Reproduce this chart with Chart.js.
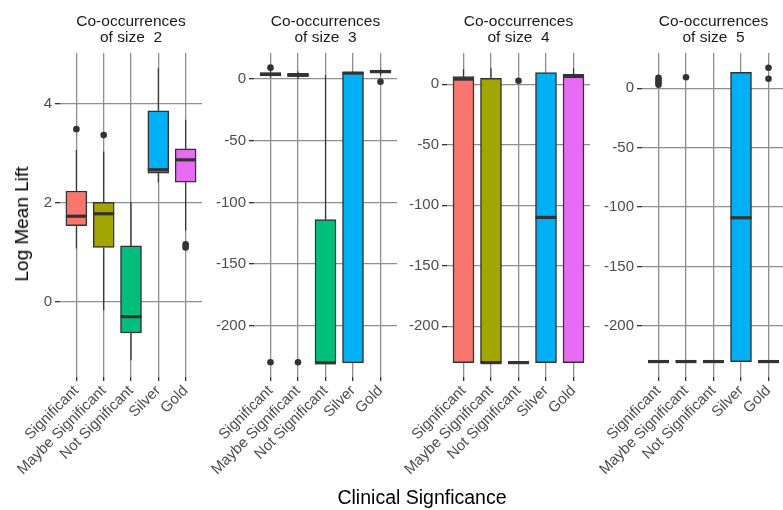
<!DOCTYPE html>
<html>
<head>
<meta charset="utf-8">
<script src="https://cdn.jsdelivr.net/npm/chart.js@4.4.0/dist/chart.umd.min.js"></script>
<style>
  body { margin: 0; background: #fff; width: 783px; height: 510px; overflow: hidden; position: relative; font-family: "Liberation Sans", Arial, sans-serif; }
  canvas { position: absolute; top: 0; }
  #ytitle { position: absolute; left: 22px; top: 224px; transform: translate(-50%, -50%) rotate(-90deg); font-size: 19px; color: #000; white-space: nowrap; }
  #xtitle { position: absolute; left: 422px; top: 497px; transform: translate(-50%, -50%); font-size: 19.5px; color: #000; white-space: nowrap; }
</style>
</head>
<body>
<canvas id="p2" width="206" height="510"></canvas>
<canvas id="p3" width="202" height="510"></canvas>
<canvas id="p4" width="202" height="510"></canvas>
<canvas id="p5" width="202" height="510"></canvas>
<div id="ytitle">Log Mean Lift</div>
<div id="xtitle">Clinical Signficance</div>
<script>
const categories = ['Significant', 'Maybe Significant', 'Not Significant', 'Silver', 'Gold'];
const boxColors = ['#F8766D', '#A3A500', '#00BF7D', '#00B0F6', '#E76BF3'];

// size 2
const s2Low  = [1.08, -0.17, -1.18, 2.41, 1.44];
const s2Q1   = [1.54, 1.10, -0.63, 2.60, 2.42];
const s2Med  = [1.73, 1.78, -0.30, 2.67, 2.87];
const s2Q3   = [2.24, 2.01, 1.13, 3.86, 3.09];
const s2High = [3.07, 3.04, 2.02, 4.72, 3.68];
const s2Out  = [[3.49], [3.37], [], [], [1.10, 1.16]];
const s2Ticks = [0, 2, 4];

// size 3
const s3Low  = [1, 0, -230, -230, 3];
const s3Q1   = [2.5, 2, -230, -230, 5];
const s3Med  = [4, 3, -230, 4.8, 6];
const s3Q3   = [5, 4.5, -114, 5.5, 7];
const s3High = [7, 6, 3, 6, 8];
const s3Out  = [[9.2, -229.6], [-229.6], [], [], [-2.2]];

// size 4
const s4Low  = [-230, -230, -230, -230, -230];
const s4Q1   = [-230, -230, -230, -230, -230];
const s4Med  = [4.3, -230, -230, -110, 6.5];
const s4Q3   = [6.3, 5, -230, 9.6, 8.3];
const s4High = [12.6, 13.2, -230, 9.6, 13.2];
const s4Out  = [[], [], [3], [], []];

// size 5
const s5Low  = [-230, -230, -230, -230, -230];
const s5Q1   = [-230, -230, -230, -230, -230];
const s5Med  = [-230, -230, -230, -109, -230];
const s5Q3   = [-230, -230, -230, 13.5, -230];
const s5High = [-230, -230, -230, 13.5, -230];
const s5Out  = [[3, 5, 7, 8.7], [9.3], [], [], [8, 17.3]];

const bigTicks = [-200, -150, -100, -50, 0];

const FONT = '"Liberation Sans", Arial, sans-serif';
const GRID = '#8e8e8e';

const panels = [
  { id: 'p2', size: 2, left: 0,     yw: 60, low: s2Low, q1: s2Q1, med: s2Med, q3: s2Q3, high: s2High, out: s2Out, ticks: s2Ticks, min: -1.52, max: 5.03 },
  { id: 'p3', size: 3, left: 198.5, yw: 55, low: s3Low, q1: s3Q1, med: s3Med, q3: s3Q3, high: s3High, out: s3Out, ticks: bigTicks, min: -241.5, max: 21.1 },
  { id: 'p4', size: 4, left: 392,   yw: 55, low: s4Low, q1: s4Q1, med: s4Med, q3: s4Q3, high: s4High, out: s4Out, ticks: bigTicks, min: -241.9, max: 25.9 },
  { id: 'p5', size: 5, left: 586.5, yw: 55, low: s5Low, q1: s5Q1, med: s5Med, q3: s5Q3, high: s5High, out: s5Out, ticks: bigTicks, min: -243, max: 29.7 }
];

// whiskers go under the boxes, medians on top of them
function boxExtras(p) {
  return {
    id: 'boxExtras',
    beforeDatasetsDraw(chart) {
      const {ctx, chartArea, scales: {x, y}} = chart;
      ctx.save();
      ctx.beginPath();
      ctx.rect(chartArea.left, chartArea.top, chartArea.width, chartArea.height);
      ctx.clip();
      ctx.strokeStyle = '#333333';
      ctx.lineWidth = 1.2;
      categories.forEach((c, i) => {
        const px = x.getPixelForValue(i);
        ctx.beginPath();
        ctx.moveTo(px, y.getPixelForValue(p.low[i]));
        ctx.lineTo(px, y.getPixelForValue(p.q1[i]));
        ctx.moveTo(px, y.getPixelForValue(p.q3[i]));
        ctx.lineTo(px, y.getPixelForValue(p.high[i]));
        ctx.stroke();
      });
      ctx.restore();
    },
    afterDatasetsDraw(chart) {
      const {ctx, scales: {x, y}} = chart;
      const bars = chart.getDatasetMeta(0).data;
      ctx.save();
      ctx.strokeStyle = '#333333';
      ctx.lineWidth = 3.2;
      categories.forEach((c, i) => {
        const px = x.getPixelForValue(i);
        const w = bars[i].width;
        const py = y.getPixelForValue(p.med[i]);
        ctx.beginPath();
        ctx.moveTo(px - w / 2, py);
        ctx.lineTo(px + w / 2, py);
        ctx.stroke();
      });
      ctx.restore();
    }
  };
}

panels.forEach(p => {
  const canvas = document.getElementById(p.id);
  canvas.style.left = p.left + 'px';

  const outliers = p.out.flatMap((vals, i) => vals.map(v => ({x: i, y: v})));

  new Chart(canvas, {
    type: 'bar',
    data: {
      datasets: [
        {
          type: 'bar',
          data: categories.map((c, i) => ({x: i, y: [p.q1[i], p.q3[i]]})),
          backgroundColor: boxColors,
          borderColor: '#333333',
          borderWidth: 1.5,
          borderSkipped: false,
          barThickness: 21,
          order: 2
        },
        {
          type: 'scatter',
          data: outliers,
          pointRadius: 3.3,
          pointBackgroundColor: '#333333',
          pointBorderWidth: 0,
          order: 1
        }
      ]
    },
    options: {
      responsive: false,
      animation: false,
      layout: { padding: 0 },
      plugins: {
        legend: { display: false },
        tooltip: { enabled: false },
        title: {
          display: true,
          text: ['Co-occurrences', 'of size  ' + p.size],
          fullSize: false,
          color: '#1A1A1A',
          font: { family: FONT, size: 15.5, weight: 'normal', lineHeight: 1.07 },
          padding: { top: 13, bottom: 6.8 }
        }
      },
      scales: {
        x: {
          type: 'linear',
          min: -0.6,
          max: 4.6,
          offset: false,
          afterBuildTicks: s => { s.ticks = categories.map((c, i) => ({value: i})); },
          afterFit: s => { s.height = 133; },
          ticks: {
            callback: v => categories[v],
            autoSkip: false,
            minRotation: 45,
            maxRotation: 45,
            color: '#4D4D4D',
            font: { family: FONT, size: 15 },
            padding: 1
          },
          grid: { offset: false, color: GRID, lineWidth: 1.3, tickColor: '#333333', tickLength: 4 },
          border: { display: false }
        },
        y: {
          min: p.min,
          max: p.max,
          afterBuildTicks: s => { s.ticks = p.ticks.map(v => ({value: v})); },
          afterFit: s => { s.width = p.yw; },
          ticks: {
            color: '#4D4D4D',
            font: { family: FONT, size: 15 },
            padding: 3
          },
          grid: { color: GRID, lineWidth: 1.3, tickColor: '#333333', tickLength: 5 },
          border: { display: false }
        }
      }
    },
    plugins: [boxExtras(p)]
  });
});
</script>
</body>
</html>
